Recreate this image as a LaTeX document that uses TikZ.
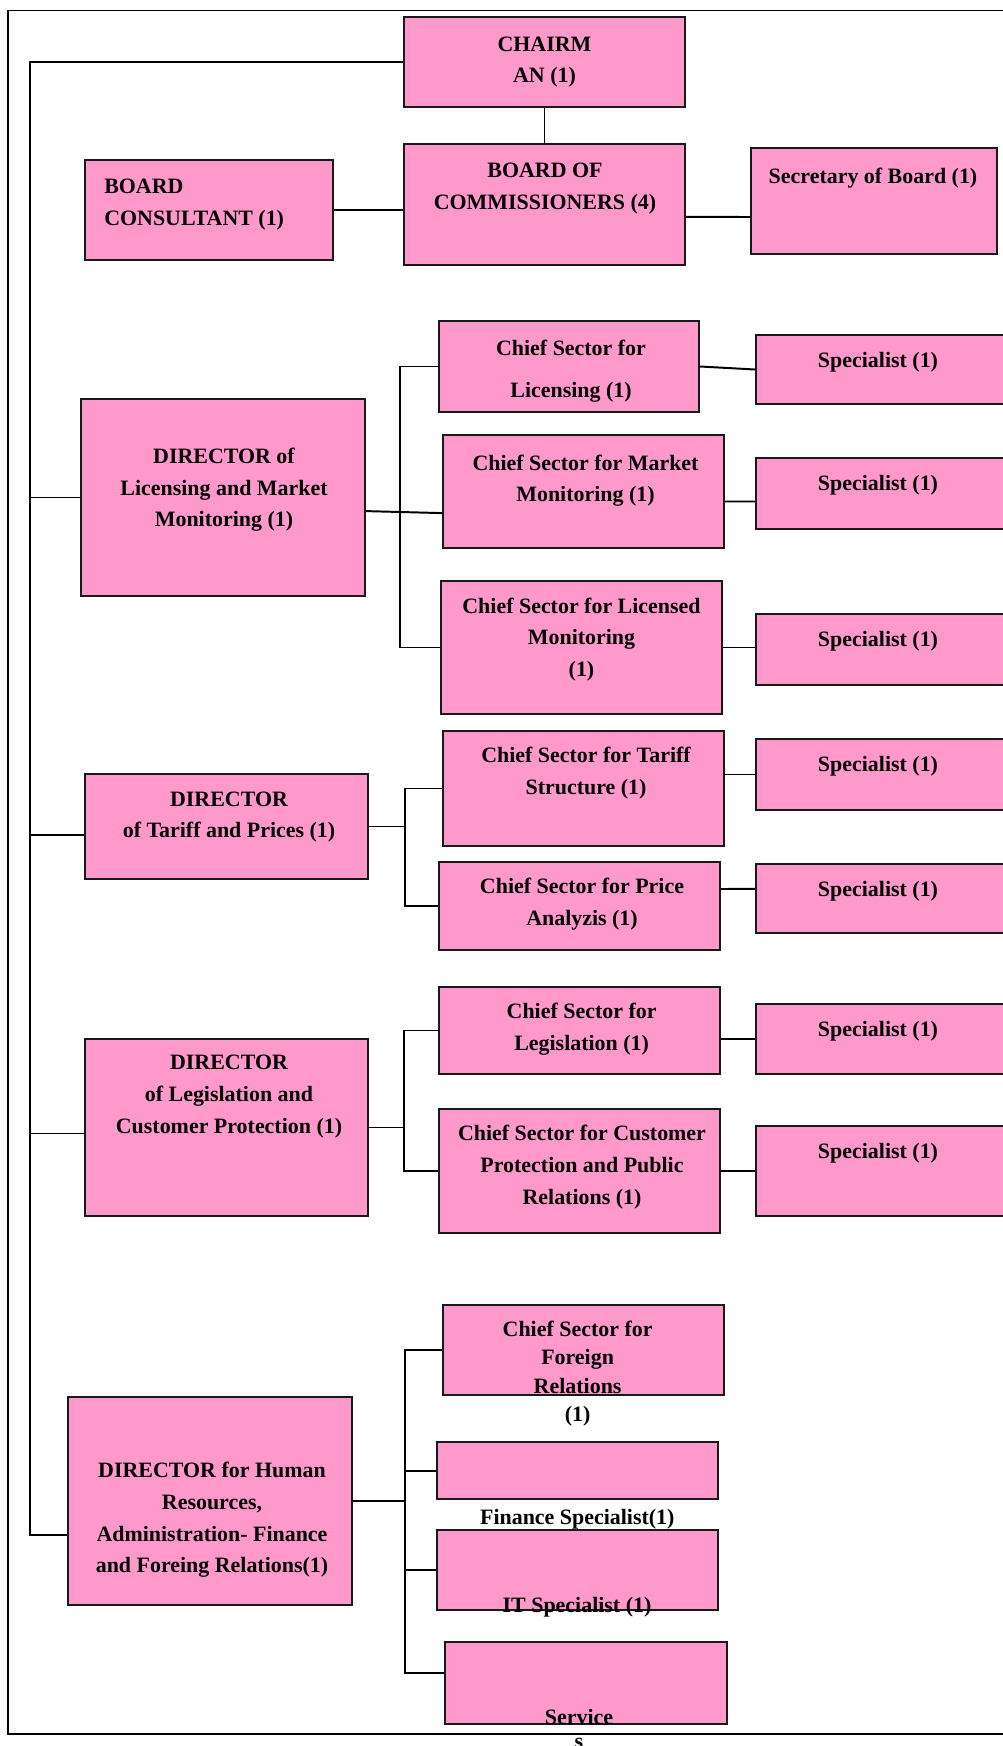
\documentclass[tikz,border=0pt]{standalone}
\usepackage{fontspec}
\setmainfont{Liberation Serif}
\usepackage{tikz}
\definecolor{Rosa}{RGB}{255, 153, 204}
\definecolor{Bordo}{RGB}{25, 25, 25}
\tikzset{
    casella/.style={draw=Bordo, fill=Rosa, line width=1.4pt, inner sep=0pt},
    testo/.style={align=center, inner sep=0pt},
    linea/.style={line width=1.4pt}
}

\begin{document}
\begin{tikzpicture}[
    x=0.025cm, y=-0.025cm,
    font=\fontsize{15.6}{22.5}\selectfont\bfseries,
    cornice/.style={line width=1.2pt},
    specialista/.style={casella, minimum width=6.3cm},
    capo/.style={casella, minimum width=7.025cm},
    direttore/.style={casella, minimum width=7.075cm}
    ]

    \useasboundingbox (0,0) rectangle (1003,1746);

    %%% Frame
    \draw[cornice] (1003,10.5) -- (8,10.5) -- (8,1734) -- (1003,1734);

    %%% Boxes
    % board level
    \node[capo, minimum height=2.25cm, align=center] (chairman) at (544.5,62) {CHAIRM\\AN (1)};
    \node[capo, minimum height=3.025cm] (board)      at (544.5,204.5) {};
    \node[casella, minimum width=6.2cm, minimum height=2.5cm]   (consultant) at (209,210) {};
    \node[casella, minimum width=6.15cm, minimum height=2.65cm] (secretary)  at (874,201) {};
    % licensing and market monitoring
    \node[casella, minimum width=7.1cm, minimum height=4.925cm] (dirLicensing) at (223,497.5) {};
    \node[casella, minimum width=6.5cm, minimum height=2.275cm] (csLicensing)  at (569,366.5) {};
    \node[capo, minimum height=2.825cm] (csMarket)   at (583.5,491.5) {};
    \node[capo, minimum height=3.325cm] (csLicensed) at (581.5,647.5) {};
    \node[specialista, minimum height=1.725cm] (spec1) at (882,369.5) {};
    \node[specialista, minimum height=1.775cm] (spec2) at (882,493.5) {};
    \node[specialista, minimum height=1.775cm] (spec3) at (882,649.5) {};
    % tariff and prices
    \node[direttore, minimum height=2.625cm] (dirTariff) at (226.5,826.5) {};
    \node[capo, minimum height=2.875cm] (csTariff) at (583.5,788.5) {};
    \node[capo, minimum height=2.2cm]   (csPrice)  at (579.5,906) {};
    \node[specialista, minimum height=1.775cm] (spec4) at (882,774.5) {};
    \node[specialista, minimum height=1.725cm] (spec5) at (882,898.5) {};
    % legislation and customer protection
    \node[direttore, minimum height=4.425cm] (dirLegislation) at (226.5,1127.5) {};
    \node[capo, minimum height=2.175cm] (csLegislation) at (579.5,1030.5) {};
    \node[capo, minimum height=3.1cm]   (csCustomer)    at (579.5,1171) {};
    \node[specialista, minimum height=1.75cm] (spec6) at (882,1039) {};
    \node[specialista, minimum height=2.25cm] (spec7) at (882,1171) {};
    % human resources
    \node[casella, minimum width=7.1cm, minimum height=5.2cm] (dirHR) at (210,1501) {};
    \node[capo, minimum height=2.25cm]  (csForeign) at (583.5,1350) {};
    \node[capo, minimum height=1.425cm] (finance)   at (577.5,1470.5) {};
    \node[capo, minimum height=2cm]     (itBox)     at (577.5,1570) {};
    \node[casella, minimum width=7.05cm, minimum height=2.05cm] (service) at (586,1683) {};

    %%% Texts
    \node[testo] (boardT) at (545,188.5) {BOARD OF\\COMMISSIONERS (4)};
    \node[testo, align=left, anchor=west] (consultantT) at (104,204.5) {BOARD\\CONSULTANT (1)};
    \node[testo] (secretaryT) at (873,178) {Secretary of Board (1)};

    \node[testo] (dirLicensingT) at (224,490) {DIRECTOR of\\Licensing and Market\\Monitoring (1)};
    \node[testo] (csLicensingT)  at (571,371) {Chief Sector for\\[7.3pt]Licensing (1)};
    \node[testo] (csMarketT)     at (585.5,480.7) {Chief Sector for Market\\Monitoring (1)};
    \node[testo] (csLicensedT)   at (581.5,639.5) {Chief Sector for Licensed\\Monitoring\\(1)};

    \node[testo] (dirTariffT) at (229,817) {DIRECTOR\\of Tariff and Prices (1)};
    \node[testo] (csTariffT)  at (586,773) {Chief Sector for Tariff\\Structure (1)};
    \node[testo] (csPriceT)   at (582,904) {Chief Sector for Price\\Analyzis (1)};

    \node[testo] (dirLegislationT) at (229,1096.5) {DIRECTOR\\of Legislation and\\Customer Protection (1)};
    \node[testo] (csLegislationT)  at (581.6,1029.5) {Chief Sector for\\Legislation (1)};
    \node[testo] (csCustomerT)     at (582,1167) {Chief Sector for Customer\\Protection and Public\\Relations (1)};

    \node[testo] (dirHRT) at (212,1520) {DIRECTOR for Human\\Resources,\\Administration- Finance\\and Foreing Relations(1)};
    \node[testo, font=\fontsize{15.6}{20.3}\selectfont\bfseries] (csForeignT) at (577.6,1373.5) {Chief Sector for\\Foreign\\Relations\\(1)};
    \node[testo] (financeT) at (577.3,1519.7) {Finance Specialist(1)};
    \node[testo] (itT)      at (577,1607.7) {IT Specialist (1)};
    \node[testo, anchor=north, font=\fontsize{15.6}{17}\selectfont\bfseries] (serviceT) at (579,1709) {Service\\s};

    % specialists
    \node[testo] (spec1T) at ([xshift=-0.1cm, yshift=-0.7cm]spec1.north) {Specialist (1)};
    \node[testo] (spec2T) at ([xshift=-0.1cm, yshift=-0.7cm]spec2.north) {Specialist (1)};
    \node[testo] (spec3T) at ([xshift=-0.1cm, yshift=-0.7cm]spec3.north) {Specialist (1)};
    \node[testo] (spec4T) at ([xshift=-0.1cm, yshift=-0.7cm]spec4.north) {Specialist (1)};
    \node[testo] (spec5T) at ([xshift=-0.1cm, yshift=-0.7cm]spec5.north) {Specialist (1)};
    \node[testo] (spec6T) at ([xshift=-0.1cm, yshift=-0.7cm]spec6.north) {Specialist (1)};
    \node[testo] (spec7T) at ([xshift=-0.1cm, yshift=-0.7cm]spec7.north) {Specialist (1)};

    %%% Connectors
    % main spine
    \coordinate (busBottom) at (30,1535);
    \coordinate (tarIn) at ([yshift=-0.21cm]dirTariff.west);
    \coordinate (legIn) at ([yshift=-0.15cm]dirLegislation.west);
    \draw[cornice] (chairman.west) -| (busBottom) -- (busBottom -| dirHR.west);
    \draw[cornice] (dirLicensing.west -| busBottom) -- (dirLicensing.west);
    \draw[cornice] (tarIn -| busBottom) -- (tarIn);
    \draw[cornice] (legIn -| busBottom) -- (legIn);

    % board
    \draw[linea] (chairman.south) -- (board.north);
    \draw[linea] (consultant.east) -- (consultant.east -| board.west);
    \draw[linea] ([yshift=-0.31cm]board.east) -- ([yshift=-0.4cm]secretary.west);

    % licensing
    \coordinate (busLic) at (400,500);
    \draw[linea] (csLicensing.west) -- (csLicensing.west -| busLic) -- (csLicensed.west -| busLic) -- (csLicensed.west);
    \draw[linea] ([yshift=-0.34cm]dirLicensing.east) -- ([yshift=-0.54cm]csMarket.west);
    \draw[linea] (csLicensing.east) -- (spec1.west);
    \draw[linea] ([yshift=-0.25cm]csMarket.east) -- ([yshift=-0.2cm]spec2.west);
    \draw[linea] (csLicensed.east) -- (csLicensed.east -| spec3.west);

    % tariff
    \coordinate (busTar) at (405,800);
    \draw[linea] (dirTariff.east) -- (dirTariff.east -| busTar);
    \draw[linea] (csTariff.west) -- (csTariff.west -| busTar) -- (csPrice.west -| busTar) -- (csPrice.west);
    \draw[linea] (spec4.west) -- (spec4.west -| csTariff.east);
    \draw[linea] ([yshift=0.425cm]csPrice.east) -- ([yshift=0.24cm]spec5.west);

    % legislation
    \coordinate (busLeg) at (404,1100);
    \draw[linea] (dirLegislation.east) -- (dirLegislation.east -| busLeg);
    \draw[linea] (csLegislation.west) -- (csLegislation.west -| busLeg) -- (csCustomer.west -| busLeg) -- (csCustomer.west);
    \draw[linea] (spec6.west) -- (spec6.west -| csLegislation.east);
    \draw[linea] (csCustomer.east) -- (spec7.west);

    % human resources
    \coordinate (busHR) at (405,1500);
    \coordinate (servIn) at ([yshift=0.25cm]service.west);
    \draw[linea] (dirHR.east) -- (dirHR.east -| busHR);
    \draw[linea] (csForeign.west) -- (csForeign.west -| busHR) -- (servIn -| busHR) -- (servIn);
    \draw[linea] (finance.west -| busHR) -- (finance.west);
    \draw[linea] (itBox.west -| busHR) -- (itBox.west);
\end{tikzpicture}
\end{document}
